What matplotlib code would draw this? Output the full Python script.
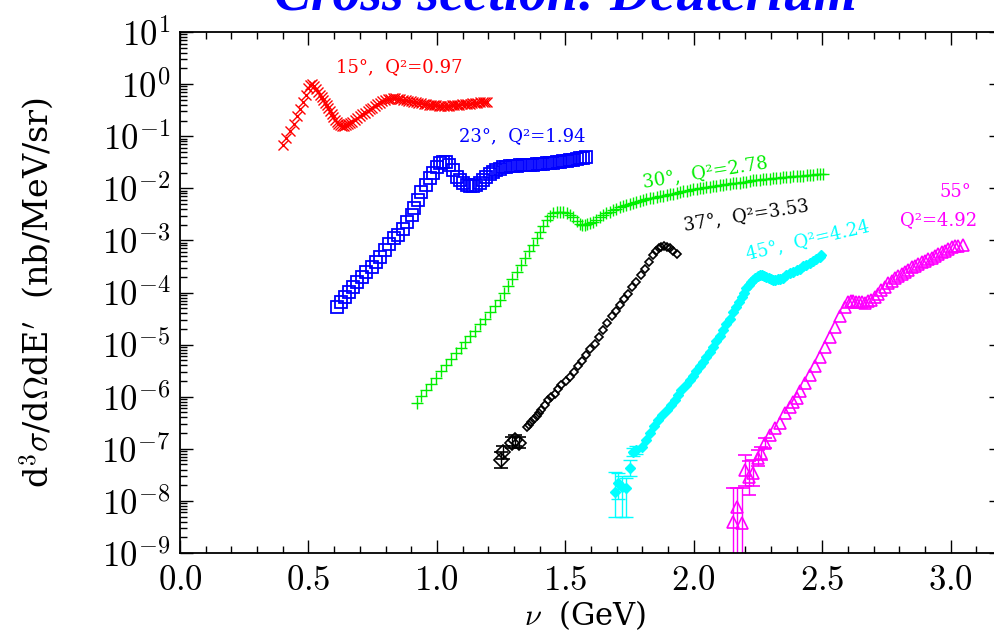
import numpy as np
import matplotlib
matplotlib.use("Agg")
import matplotlib.pyplot as plt
from matplotlib.ticker import MultipleLocator, LogLocator, NullFormatter, FuncFormatter

plt.rcParams["font.family"] = ["DejaVu Serif"]
plt.rcParams["mathtext.fontset"] = "cm"

# ---- data (nu in GeV, log10 of cross section) ----
nu_15 = [0.400, 0.414, 0.428, 0.442, 0.456, 0.468, 0.480, 0.490, 0.500, 0.508, 0.515, 0.523,
         0.531, 0.538, 0.545, 0.551, 0.558, 0.564, 0.571, 0.577, 0.584, 0.590, 0.597, 0.603,
         0.610, 0.616, 0.623, 0.629, 0.637, 0.646, 0.654, 0.661, 0.671, 0.681, 0.690, 0.700,
         0.710, 0.720, 0.730, 0.739, 0.749, 0.759, 0.768, 0.778, 0.788, 0.798, 0.808, 0.818,
         0.828, 0.838, 0.848, 0.858, 0.868, 0.878, 0.888, 0.898, 0.908, 0.918, 0.928, 0.938,
         0.948, 0.958, 0.968, 0.978, 0.988, 0.998, 1.008, 1.018, 1.028, 1.038, 1.048, 1.058,
         1.068, 1.078, 1.088, 1.098, 1.108, 1.118, 1.128, 1.138, 1.148, 1.158, 1.168, 1.178,
         1.188, 1.195]
lg_15 = [-1.17, -1.03, -0.90, -0.76, -0.62, -0.48, -0.34, -0.20, -0.08, -0.02, 0.00, -0.04,
         -0.09, -0.15, -0.20, -0.25, -0.31, -0.36, -0.41, -0.46, -0.52, -0.57, -0.63, -0.69,
         -0.73, -0.77, -0.79, -0.80, -0.80, -0.79, -0.77, -0.75, -0.72, -0.69, -0.65, -0.61,
         -0.58, -0.55, -0.52, -0.48, -0.45, -0.42, -0.39, -0.36, -0.33, -0.30, -0.29, -0.28,
         -0.27, -0.27, -0.28, -0.29, -0.30, -0.31, -0.32, -0.33, -0.34, -0.35, -0.36, -0.37,
         -0.38, -0.39, -0.40, -0.40, -0.41, -0.41, -0.42, -0.42, -0.42, -0.42, -0.42, -0.41,
         -0.41, -0.40, -0.40, -0.39, -0.39, -0.38, -0.38, -0.37, -0.37, -0.36, -0.35, -0.35,
         -0.34, -0.34]

nu_23 = [0.610, 0.625, 0.642, 0.659, 0.674, 0.690, 0.707, 0.726, 0.746, 0.763, 0.778, 0.798,
         0.814, 0.833, 0.849, 0.867, 0.884, 0.902, 0.912, 0.925, 0.940, 0.957, 0.973, 0.986,
         0.999, 1.012, 1.025, 1.037, 1.048, 1.061, 1.077, 1.090, 1.103, 1.116, 1.129, 1.142,
         1.154, 1.167, 1.180, 1.193, 1.206, 1.219, 1.232, 1.245, 1.258, 1.271, 1.284, 1.297,
         1.310, 1.323, 1.336, 1.349, 1.362, 1.375, 1.388, 1.401, 1.414, 1.427, 1.440, 1.453,
         1.466, 1.479, 1.492, 1.505, 1.518, 1.531, 1.544, 1.556, 1.569, 1.582]
lg_23 = [-4.27, -4.18, -4.08, -3.99, -3.89, -3.79, -3.70, -3.60, -3.51, -3.41, -3.31, -3.18,
         -3.07, -2.96, -2.90, -2.79, -2.64, -2.51, -2.38, -2.23, -2.08, -1.94, -1.81, -1.70,
         -1.59, -1.52, -1.49, -1.50, -1.55, -1.65, -1.78, -1.85, -1.90, -1.94, -1.95, -1.95,
         -1.94, -1.90, -1.85, -1.78, -1.72, -1.68, -1.65, -1.62, -1.60, -1.59, -1.58, -1.57,
         -1.565, -1.56, -1.555, -1.55, -1.55, -1.545, -1.54, -1.535, -1.53, -1.52, -1.515, -1.51,
         -1.50, -1.49, -1.48, -1.47, -1.46, -1.45, -1.44, -1.42, -1.41, -1.405]

nu_30 = [0.921, 0.940, 0.959, 0.978, 0.997, 1.016, 1.035, 1.054, 1.073, 1.092, 1.111, 1.130,
         1.149, 1.168, 1.187, 1.206, 1.225, 1.245, 1.262, 1.278, 1.294, 1.310, 1.326, 1.342,
         1.358, 1.375, 1.388, 1.401, 1.414, 1.427, 1.440, 1.453, 1.466, 1.479, 1.492, 1.505,
         1.518, 1.531, 1.544, 1.556, 1.566, 1.576, 1.586, 1.598, 1.608, 1.620, 1.634, 1.647,
         1.660, 1.673, 1.686, 1.699, 1.712, 1.725, 1.738, 1.751, 1.764, 1.777, 1.790, 1.803,
         1.816, 1.829, 1.842, 1.855, 1.868, 1.881, 1.894, 1.907, 1.920, 1.933, 1.946, 1.959,
         1.972, 1.985, 1.998, 2.011, 2.023, 2.036, 2.049, 2.062, 2.075, 2.088, 2.101, 2.114,
         2.127, 2.140, 2.153, 2.166, 2.179, 2.192, 2.205, 2.218, 2.231, 2.244, 2.257, 2.270,
         2.283, 2.296, 2.309, 2.322, 2.335, 2.348, 2.361, 2.374, 2.387, 2.400, 2.413, 2.426,
         2.439, 2.452, 2.465, 2.478, 2.491, 2.503]
lg_30 = [-6.13, -5.99, -5.87, -5.76, -5.64, -5.51, -5.40, -5.28, -5.16, -5.06, -4.95, -4.84,
         -4.73, -4.61, -4.50, -4.38, -4.26, -4.14, -4.01, -3.87, -3.74, -3.60, -3.47, -3.34,
         -3.21, -3.09, -2.96, -2.84, -2.72, -2.61, -2.53, -2.48, -2.45, -2.45, -2.46, -2.48,
         -2.51, -2.56, -2.62, -2.68, -2.70, -2.70, -2.69, -2.67, -2.64, -2.60, -2.56, -2.52,
         -2.48, -2.45, -2.42, -2.39, -2.36, -2.34, -2.32, -2.30, -2.29, -2.27, -2.25, -2.23,
         -2.21, -2.19, -2.18, -2.17, -2.15, -2.14, -2.13, -2.11, -2.10, -2.09, -2.07, -2.06,
         -2.05, -2.03, -2.02, -2.01, -2.00, -1.99, -1.98, -1.97, -1.96, -1.95, -1.94, -1.93,
         -1.92, -1.91, -1.90, -1.89, -1.89, -1.88, -1.87, -1.86, -1.85, -1.84, -1.84, -1.83,
         -1.83, -1.82, -1.81, -1.80, -1.80, -1.79, -1.78, -1.78, -1.77, -1.77, -1.76, -1.76,
         -1.75, -1.74, -1.74, -1.73, -1.73, -1.73]

# 37 deg: low-statistics points with error bars, then the main set
nu_37e = [1.250, 1.258, 1.292, 1.305, 1.318]
lg_37e = [-7.21, -7.07, -6.88, -6.84, -6.88]
er_37e = [0.15, 0.12, 0.10, 0.10, 0.10]
nu_37 = [1.349, 1.358, 1.368, 1.378, 1.388, 1.397, 1.407, 1.420, 1.433, 1.446, 1.459, 1.472,
         1.485, 1.501, 1.518, 1.534, 1.550, 1.566, 1.582, 1.598, 1.615, 1.631, 1.647, 1.663,
         1.680, 1.696, 1.712, 1.728, 1.744, 1.760, 1.777, 1.793, 1.809, 1.825, 1.842, 1.852,
         1.863, 1.874, 1.885, 1.896, 1.907, 1.920, 1.933]
lg_37 = [-6.59, -6.54, -6.48, -6.43, -6.38, -6.32, -6.26, -6.16, -6.06, -6.00, -5.94, -5.86,
         -5.78, -5.70, -5.62, -5.52, -5.42, -5.31, -5.20, -5.09, -4.98, -4.85, -4.72, -4.59,
         -4.46, -4.35, -4.24, -4.13, -4.02, -3.90, -3.79, -3.67, -3.54, -3.41, -3.28, -3.21,
         -3.15, -3.12, -3.11, -3.13, -3.15, -3.20, -3.26]

nu_45 = [1.693, 1.705, 1.719, 1.735, 1.751, 1.764, 1.777, 1.797, 1.813, 1.829, 1.845, 1.861,
         1.877, 1.894, 1.910, 1.926, 1.939, 1.952, 1.968, 1.984, 1.997, 2.010, 2.023, 2.036,
         2.049, 2.062, 2.075, 2.088, 2.101, 2.114, 2.127, 2.140, 2.153, 2.166, 2.176, 2.186,
         2.196, 2.205, 2.214, 2.223, 2.231, 2.240, 2.249, 2.257, 2.266, 2.275, 2.283, 2.292,
         2.301, 2.309, 2.318, 2.327, 2.335, 2.348, 2.361, 2.374, 2.387, 2.400, 2.412, 2.425,
         2.438, 2.451, 2.464, 2.477, 2.490, 2.497]
lg_45 = [-7.82, -7.66, -7.73, -7.76, -7.37, -7.06, -7.02, -6.96, -6.83, -6.70, -6.57, -6.45,
         -6.35, -6.26, -6.16, -6.06, -5.97, -5.87, -5.78, -5.68, -5.60, -5.51, -5.42, -5.33,
         -5.23, -5.14, -5.04, -4.94, -4.83, -4.72, -4.61, -4.50, -4.38, -4.27, -4.18, -4.08,
         -4.00, -3.92, -3.86, -3.80, -3.76, -3.72, -3.68, -3.66, -3.67, -3.69, -3.70, -3.72,
         -3.75, -3.76, -3.76, -3.75, -3.75, -3.72, -3.67, -3.63, -3.60, -3.56, -3.54, -3.50,
         -3.47, -3.44, -3.40, -3.35, -3.31, -3.28]
# error bars (in decades) for the first points of the 45 deg set
elo_45 = [0.48, 0.30, 0.57, 0.54, 0.16, 0.08, 0.08]
ehi_45 = [0.38, 0.20, 0.20, 0.20, 0.16, 0.08, 0.08]

nu_55 = [2.153, 2.168, 2.186, 2.198, 2.215, 2.231, 2.250, 2.263, 2.276, 2.296, 2.315, 2.335,
         2.354, 2.374, 2.387, 2.400, 2.412, 2.432, 2.451, 2.471, 2.490, 2.510, 2.529, 2.549,
         2.568, 2.588, 2.601, 2.611, 2.621, 2.633, 2.643, 2.654, 2.665, 2.678, 2.691, 2.704,
         2.717, 2.730, 2.743, 2.756, 2.770, 2.783, 2.796, 2.809, 2.822, 2.835, 2.848, 2.861,
         2.874, 2.887, 2.900, 2.913, 2.926, 2.939, 2.952, 2.965, 2.978, 2.991, 3.004, 3.017,
         3.030, 3.048]
lg_55 = [-8.40, -8.11, -8.43, -7.41, -7.54, -7.47, -7.18, -7.09, -6.89, -6.74, -6.61, -6.51,
         -6.32, -6.19, -6.11, -6.03, -5.90, -5.74, -5.58, -5.42, -5.23, -5.04, -4.85, -4.66,
         -4.46, -4.27, -4.18, -4.17, -4.17, -4.18, -4.19, -4.19, -4.20, -4.17, -4.14, -4.08,
         -4.02, -3.95, -3.89, -3.82, -3.77, -3.72, -3.68, -3.64, -3.60, -3.56, -3.52, -3.49,
         -3.45, -3.42, -3.39, -3.36, -3.33, -3.30, -3.27, -3.23, -3.20, -3.16, -3.13, -3.11,
         -3.10, -3.09]
elo_55 = [3.0, 3.0, 3.0, 0.30, 0.35, 0.25, 0.15, 0.12, 0.10]
ehi_55 = [0.64, 0.35, 0.67, 0.30, 0.30, 0.25, 0.15, 0.12, 0.10]

labels = ["15°,  Q²=0.97", "23°,  Q²=1.94", "30°,  Q²=2.78",
          "37°,  Q²=3.53", "45°,  Q²=4.24", "55°", "Q²=4.92"]


def dex_err(lg, lo, hi):
    y = 10.0 ** np.array(lg)
    return y, [y - y * 10.0 ** -np.array(lo), y * 10.0 ** np.array(hi) - y]


fig = plt.figure(figsize=(9.94, 6.35), dpi=100)
ax = fig.add_axes([180 / 994, 1 - 553 / 635, 822 / 994, 521 / 635])
ax.set_yscale("log")

ax.plot(nu_15, 10.0 ** np.array(lg_15), ls="none", marker="x", ms=7, mew=1.0, color="red")
ax.plot(nu_23, 10.0 ** np.array(lg_23), ls="none", marker="s", ms=8, mew=1.3, mfc="none", color="blue")
ax.plot(nu_30, 10.0 ** np.array(lg_30), ls="none", marker="+", ms=9, mew=1.0, color="#00ee00")

y, e = dex_err(lg_37e, er_37e, er_37e)
ax.errorbar(nu_37e, y, yerr=e, ls="none", marker="D", ms=7, mew=1.2, mfc="none",
            color="black", elinewidth=1.0, capsize=5)
ax.plot(nu_37, 10.0 ** np.array(lg_37), ls="none", marker="D", ms=4.5, mew=1.2, mfc="none", color="black")

n = len(elo_45)
y, e = dex_err(lg_45[:n], elo_45, ehi_45)
ax.errorbar(nu_45[:n], y, yerr=e, ls="none", marker="D", ms=5, color="cyan",
            elinewidth=1.0, capsize=5)
ax.plot(nu_45[n:], 10.0 ** np.array(lg_45[n:]), ls="none", marker="D", ms=5, color="cyan")

n = len(elo_55)
y, e = dex_err(lg_55[:n], elo_55, ehi_55)
ax.errorbar(nu_55[:n], y, yerr=e, ls="none", marker="^", ms=8, mew=1.2, mfc="none",
            color="magenta", elinewidth=1.0, capsize=5)
ax.plot(nu_55[n:], 10.0 ** np.array(lg_55[n:]), ls="none", marker="^", ms=8, mew=1.2,
        mfc="none", color="magenta")

kw = dict(fontsize=13, ha="center", va="center", rotation_mode="anchor")
ax.text(0.852, 10 ** 0.33, labels[0], color="red", **kw)
ax.text(1.331, 10 ** -1.0, labels[1], color="blue", **kw)
ax.text(2.043, 10 ** -1.69, labels[2], color="#00ee00", rotation=9, **kw)
ax.text(2.206, 10 ** -2.51, labels[3], color="black", rotation=9, **kw)
ax.text(2.444, 10 ** -2.99, labels[4], color="cyan", rotation=13, **kw)
ax.text(3.02, 10 ** -2.07, labels[5], color="magenta", **kw)
ax.text(2.953, 10 ** -2.61, labels[6], color="magenta", **kw)

ax.set_xlim(0, 3.2)
ax.set_ylim(1e-9, 10)
ax.xaxis.set_major_locator(MultipleLocator(0.5))
ax.xaxis.set_minor_locator(MultipleLocator(0.1))
ax.xaxis.set_major_formatter(FuncFormatter(lambda v, p: r"$%.1f$" % v))
ax.yaxis.set_major_locator(LogLocator(base=10, numticks=20))
ax.yaxis.set_major_formatter(FuncFormatter(lambda v, p: r"$10^{%d}$" % round(np.log10(v))))
ax.yaxis.set_minor_locator(LogLocator(base=10, subs=np.arange(2, 10), numticks=20))
ax.yaxis.set_minor_formatter(NullFormatter())
ax.tick_params(which="both", direction="in", top=True, right=True, width=1.0, labelsize=25)
ax.tick_params(which="major", length=9.5, pad=7)
ax.tick_params(which="minor", length=5)
for s in ax.spines.values():
    s.set_linewidth(1.3)

ax.set_xlabel(r"$\nu$  (GeV)", fontsize=22)
ax.xaxis.set_label_coords(0.493, -0.086)
ax.xaxis.label.set_va("top")
ax.set_ylabel(r"d$^3\sigma$/d$\Omega$dE$^{\prime}$  (nb/MeV/sr)", fontsize=24)
ax.yaxis.set_label_coords(-0.15, 0.5)

fig.text(565 / 994, 1 - 10 / 635, "Cross section: Deuterium", color="blue",
         family="Liberation Serif", fontsize=40, fontweight="bold", fontstyle="italic",
         ha="center", va="baseline")

fig.savefig("out.png", dpi=100)
